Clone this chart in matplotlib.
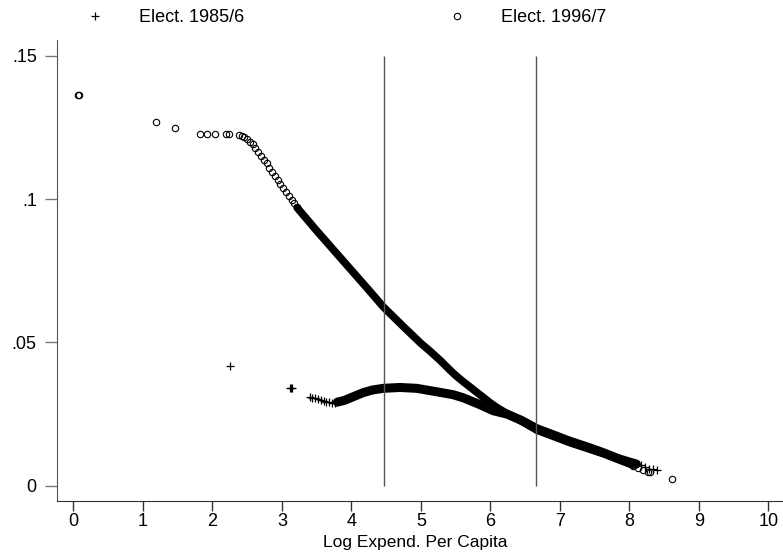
import matplotlib
matplotlib.use('Agg')
import matplotlib.pyplot as plt
import numpy as np

plt.rcParams['font.family'] = ['Liberation Sans', 'DejaVu Sans']

# Elect. 1996/7 -- scattered points (left part) and the dense band
e96_x = [0.065, 0.075, 1.19, 1.46, 1.82, 1.92, 2.04, 2.20, 2.24,
         2.39, 2.42, 2.46, 2.50, 2.54, 2.58, 2.62, 2.66, 2.70, 2.74, 2.78,
         2.82, 2.86, 2.90, 2.94, 2.98, 3.02, 3.06, 3.10, 3.14, 3.18, 3.22]
e96_y = [0.1364, 0.1362, 0.1268, 0.1248, 0.1228, 0.1228, 0.1228, 0.1228, 0.1228,
         0.1222, 0.1220, 0.1215, 0.1208, 0.1200, 0.1192, 0.1180, 0.1165, 0.1150,
         0.1138, 0.1125, 0.1110, 0.1095, 0.1080, 0.1066, 0.1052, 0.1038, 0.1024,
         0.1011, 0.0998, 0.0985, 0.0972]
e96_band_x = [3.22, 3.50, 3.75, 4.00, 4.25, 4.46, 4.75, 5.00, 5.13, 5.28, 5.40,
              5.50, 5.60, 5.70, 5.80, 5.90, 6.00, 6.10, 6.24, 6.45, 6.67, 6.90,
              7.15, 7.40, 7.65, 7.90, 8.05]
e96_band_y = [0.0970, 0.0890, 0.0821, 0.0752, 0.0683, 0.0624, 0.0555, 0.0497,
              0.0470, 0.0437, 0.0408, 0.0385, 0.0365, 0.0346, 0.0327, 0.0308,
              0.0289, 0.0272, 0.0252, 0.0225, 0.0194, 0.0173, 0.0150, 0.0130,
              0.0110, 0.0086, 0.0072]
e96_tail_x = [8.05, 8.13, 8.20, 8.27, 8.29, 8.61]
e96_tail_y = [0.0070, 0.0062, 0.0056, 0.0049, 0.0047, 0.0022]

# Elect. 1985/6
e85_x = [2.26, 3.11, 3.13, 3.15, 3.40, 3.44, 3.48, 3.52, 3.56, 3.60, 3.64,
         3.68, 3.72, 3.76, 3.80]
e85_y = [0.0419, 0.0342, 0.0340, 0.0341, 0.0310, 0.0308, 0.0306, 0.0303,
         0.0300, 0.0297, 0.0294, 0.0292, 0.0290, 0.0290, 0.0292]
e85_band_x = [3.80, 3.90, 4.00, 4.17, 4.30, 4.46, 4.70, 4.94, 5.18, 5.46, 5.61,
              5.85, 6.04, 6.24, 6.45, 6.67, 6.90, 7.15, 7.40, 7.62, 7.85, 8.00,
              8.10]
e85_band_y = [0.0292, 0.0298, 0.0308, 0.0325, 0.0334, 0.0340, 0.0343, 0.0340,
              0.0330, 0.0318, 0.0307, 0.0283, 0.0262, 0.0250, 0.0228, 0.0199,
              0.0178, 0.0155, 0.0135, 0.0116, 0.0094, 0.0083, 0.0076]
e85_tail_x = [8.10, 8.16, 8.22, 8.28, 8.34, 8.40]
e85_tail_y = [0.0075, 0.0071, 0.0066, 0.0060, 0.0057, 0.0055]

cutoffs = [4.47, 6.66]
x_ticks = [0, 1, 2, 3, 4, 5, 6, 7, 8, 9, 10]
y_ticks = [0, 0.05, 0.10, 0.15]
y_labels = ['0', '.05', '.1', '.15']

W, H = 783, 554
fig = plt.figure(figsize=(W / 100, H / 100), dpi=100)
ax = fig.add_axes([57 / W, 53 / H, 726 / W, 461 / H])

circ = dict(marker='o', ms=4.6, mfc='none', mec='black', mew=0.8, ls='none')
plus = dict(marker='+', ms=6, mec='black', mew=0.9, ls='none')

# dense stretches are overlapping markers -> solid thick band
ax.plot(e85_band_x, e85_band_y, color='black', lw=6.5, solid_capstyle='round')
ax.plot(e96_band_x, e96_band_y, color='black', lw=5.5, solid_capstyle='round')

h85, = ax.plot(e85_x + e85_tail_x, e85_y + e85_tail_y, **plus)
h96, = ax.plot(e96_x + e96_tail_x, e96_y + e96_tail_y, **circ)

ax.vlines(cutoffs, 0, 0.15, color='#555555', lw=1.0)

ax.set_xlim(-0.235, 10.21)
ax.set_ylim(-0.0053, 0.1555)
ax.set_xticks(x_ticks)
ax.set_yticks(y_ticks)
ax.set_yticklabels(y_labels)

for s in ('top', 'right'):
    ax.spines[s].set_visible(False)
ax.spines['left'].set_color('#555555')
ax.spines['bottom'].set_color('#333333')
ax.tick_params(axis='y', length=8.5, width=1.0, color='#777777', pad=6,
               labelsize=13)
ax.tick_params(axis='x', length=7.5, width=1.0, color='#333333', pad=1.5,
               labelsize=13)

ax.set_xlabel('Log Expend. Per Capita', fontsize=12.5)
ax.xaxis.set_label_coords((415 - 57) / 726, (501 - 535) / 461)

fig.legend([h85, h96], ['Elect. 1985/6', 'Elect. 1996/7'], ncol=2,
           loc='center left', bbox_to_anchor=(77 / W, 1 - 18 / H),
           frameon=False, fontsize=13, handlelength=2.0, handletextpad=1.44,
           columnspacing=10.8, borderpad=0, borderaxespad=0)

fig.savefig('out.png', dpi=100)
